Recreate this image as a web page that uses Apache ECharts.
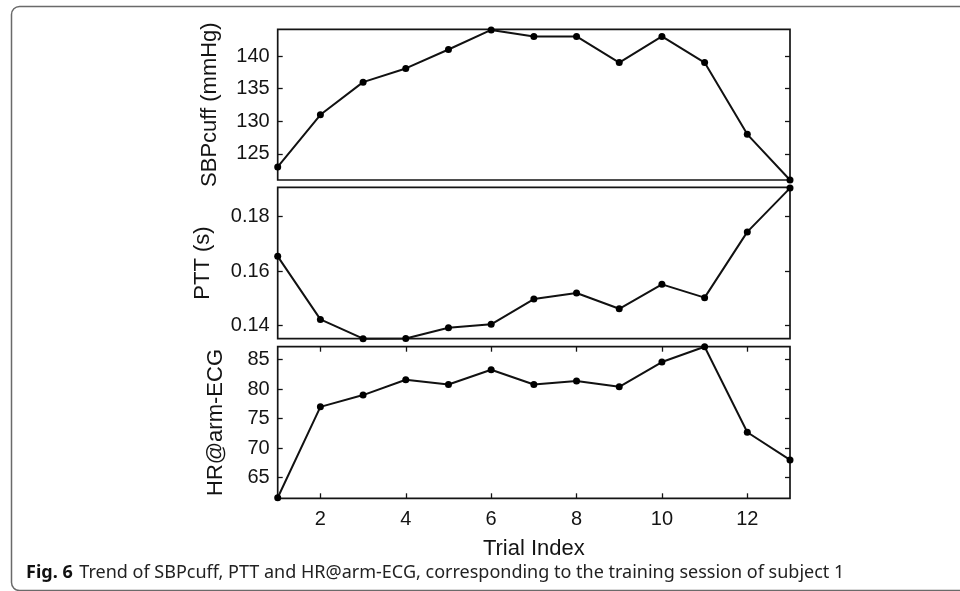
<!DOCTYPE html>
<html><head><meta charset="utf-8">
<script src="https://cdn.jsdelivr.net/npm/echarts@6/dist/echarts.min.js"></script>
<style>html,body{margin:0;padding:0;background:#fff}#c{width:960px;height:591px}</style>
</head><body><div id="c"></div>
<script>
const trials = [1,2,3,4,5,6,7,8,9,10,11,12,13];
const sbpCuff = [123,131,136,138.1,141,144,143,143,139,143,139,128,121];
const ptt = [0.1654,0.1422,0.1351,0.1352,0.1391,0.1404,0.1497,0.1519,0.1461,0.1551,0.1502,0.1744,0.1905];
const hrArmEcg = [61.6,77.0,79.0,81.6,80.8,83.3,80.8,81.4,80.4,84.6,87.2,72.7,68.0];
const xTicks = [2,4,6,8,10,12];
const sbpTicks = [125,130,135,140];
const pttTicks = [0.14,0.16,0.18];
const hrTicks = [65,70,75,80,85];
const yNames = ['SBPcuff (mmHg)','PTT (s)','HR@arm-ECG'];
const xName = 'Trial Index';

const FONT = 'Liberation Sans, Arial, sans-serif';
const INK = '#141414';
const grids = [
  {left:277.7, right:170, top:29.3, height:150.7},
  {left:277.7, right:170, top:187.3, height:151.4},
  {left:277.7, right:170, top:346.7, height:151.6}
].map(g => Object.assign(g, {show:true, borderColor:INK, borderWidth:1.7, backgroundColor:'transparent'}));

const ranges = [[121,144.1],[0.1351,0.1908],[61.5,87.2]];
const ticks = [sbpTicks, pttTicks, hrTicks];
const nameGaps = [57, 64, 51];

const tickStyle = {color:INK, width:1.3};
const xAxes = [0,1,2].map(i => ({
  type:'value', gridIndex:i, min:1, max:13, position:'bottom',
  axisLine:{show:false}, splitLine:{show:false},
  axisTick:{show:i===2, inside:true, length:5, lineStyle:tickStyle, customValues:xTicks},
  axisLabel:{show:i===2, customValues:xTicks, fontFamily:FONT, fontSize:20, color:INK, margin:11},
  name: i===2 ? xName : '', nameLocation:'middle', nameGap:40,
  nameTextStyle:{fontFamily:FONT, fontSize:22, color:INK}
}));
xAxes.push({
  type:'value', gridIndex:2, min:1, max:13, position:'top',
  axisLine:{show:false}, splitLine:{show:false},
  axisTick:{show:true, inside:true, length:5, lineStyle:tickStyle, customValues:xTicks},
  axisLabel:{show:false}
});

const yAxes = [];
[0,1,2].forEach(i => {
  yAxes.push({
    type:'value', gridIndex:i, min:ranges[i][0], max:ranges[i][1], position:'left',
    axisLine:{show:false}, splitLine:{show:false},
    axisTick:{show:true, inside:true, length:5, lineStyle:tickStyle, customValues:ticks[i]},
    axisLabel:{show:true, customValues:ticks[i], fontFamily:FONT, fontSize:20, color:INK, margin:8,
      formatter: v => i===1 ? v.toFixed(2) : String(v)},
    name:yNames[i], nameLocation:'middle', nameGap:nameGaps[i], nameRotate:90,
    nameTextStyle:{fontFamily:FONT, fontSize:22, color:INK}
  });
  yAxes.push({
    type:'value', gridIndex:i, min:ranges[i][0], max:ranges[i][1], position:'right',
    axisLine:{show:false}, splitLine:{show:false},
    axisTick:{show:true, inside:true, length:5, lineStyle:tickStyle, customValues:ticks[i]},
    axisLabel:{show:false}
  });
});

const datasets = [sbpCuff, ptt, hrArmEcg];
const series = datasets.map((d, i) => ({
  type:'line', xAxisIndex:i, yAxisIndex:i*2, clip:false,
  data: trials.map((t, k) => [t, d[k]]),
  symbol:'circle', symbolSize:7, showSymbol:true,
  itemStyle:{color:'#000'}, lineStyle:{color:'#111', width:2},
  animation:false
}));

const chart = echarts.init(document.getElementById('c'), null, {renderer:'canvas'});
chart.setOption({
  animation:false,
  grid:grids, xAxis:xAxes, yAxis:yAxes, series:series,
  graphic:[
    {type:'rect', shape:{x:11.5, y:6.5, width:1000, height:584, r:8}, style:{fill:'none', stroke:'#6a6a6a', lineWidth:1.5}, silent:true},
    {type:'text', left:26, top:564, style:{
      text:'{b|Fig. 6}  {n|Trend of SBPcuff, PTT and HR@arm-ECG, corresponding to the training session of subject 1}',
      rich:{
        b:{fontFamily:'Noto Sans, Open Sans, sans-serif', fontWeight:'bold', fontSize:18, fill:'#111'},
        n:{fontFamily:'Noto Sans, Open Sans, sans-serif', fontSize:18, fill:'#222'}
      }
    }}
  ]
});
</script>
</body></html>
